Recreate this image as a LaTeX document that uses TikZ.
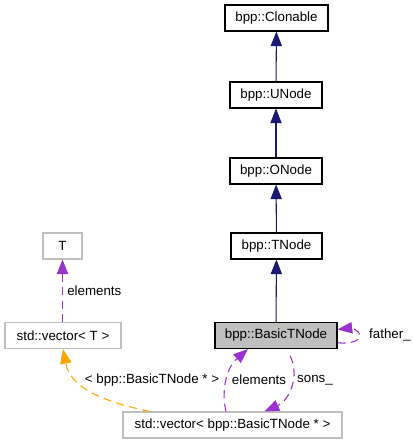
\documentclass[tikz,border=0pt]{standalone}
\usepackage{fontspec}
\setmainfont{Liberation Sans}
\usetikzlibrary{arrows.meta}
\definecolor{navy}{HTML}{191970}
\definecolor{purp}{HTML}{9A32CD}
\definecolor{orng}{HTML}{FFA500}
\definecolor{lgray}{HTML}{BFBFBF}
\begin{document}
\begin{tikzpicture}[x=0.75pt,y=-0.75pt,
  cls/.style={draw=black,line width=0.8pt,minimum height=19.5pt,inner sep=0pt,font=\fontsize{10}{12}\selectfont},
  ext/.style={draw=lgray,line width=0.8pt,minimum height=19.5pt,inner sep=0pt,font=\fontsize{10}{12}\selectfont},
  tip/.style={-{Triangle[length=11pt,width=8.5pt]}},
  inh/.style={draw=navy,line width=0.8pt,tip},
  usep/.style={draw=purp,line width=0.8pt,dash pattern=on 6pt off 4pt,tip},
  useo/.style={draw=orng,line width=0.8pt,dash pattern=on 6pt off 4pt,tip},
  lbl/.style={font=\fontsize{10}{12}\selectfont,inner sep=0pt}]
\useasboundingbox (0,0) rectangle (413,444);
\node[cls,minimum width=77.25pt] (clon) at (276.5,18) {bpp::Clonable};
\node[cls,minimum width=69pt] (unode) at (276,95) {bpp::UNode};
\node[cls,minimum width=69pt] (onode) at (276,171) {bpp::ONode};
\node[cls,minimum width=68.25pt] (tnode) at (276.5,246) {bpp::TNode};
\node[cls,fill=lgray,minimum width=91.5pt] (basic) at (276,335.5) {bpp::BasicTNode};
\node[ext,minimum width=29.25pt] (T) at (62.5,246) {T};
\node[ext,minimum width=87pt] (vecT) at (63,335.5) {std::vector< T >};
\node[ext,minimum width=164.25pt] (vecB) at (232.5,425) {std::vector< bpp::BasicTNode * >};

\draw[inh] (unode) -- (clon);
\draw[inh] (onode) -- (unode);
\draw[inh] (tnode) -- (onode);
\draw[inh] (basic) -- (tnode);

\draw[usep] (vecT.north -| T.south) -- (T.south);
\node[lbl,anchor=west] (l1) at (67,291) {elements};

\draw[useo] ([xshift=-61.9pt]vecB.north) .. controls (95,400) and (70,385) .. ([xshift=0pt]vecT.south);
\node[lbl] (l2) at (152,380) {< bpp::BasicTNode * >};

\draw[usep] ([xshift=-4.9pt]vecB.north) .. controls (222,395) and (224,370) .. ([xshift=-21pt]basic.south);
\node[lbl] (l3) at (259,380) {elements};

\draw[usep] ([xshift=10.5pt,yshift=-5pt]basic.south) .. controls (300,375) and (290,400) .. ([xshift=24pt]vecB.north);
\node[lbl] (l4) at (315,380) {sons\_};

\coordinate (fo) at (360,335.5);
\draw[usep] ([yshift=-5.5pt]basic.east) .. controls (350,344) and (360,341) .. (fo) .. controls (360,330) and (350,328) .. ([yshift=4.5pt]basic.east);
\node[lbl] (l5) at (390,335) {father\_};
\end{tikzpicture}
\end{document}
